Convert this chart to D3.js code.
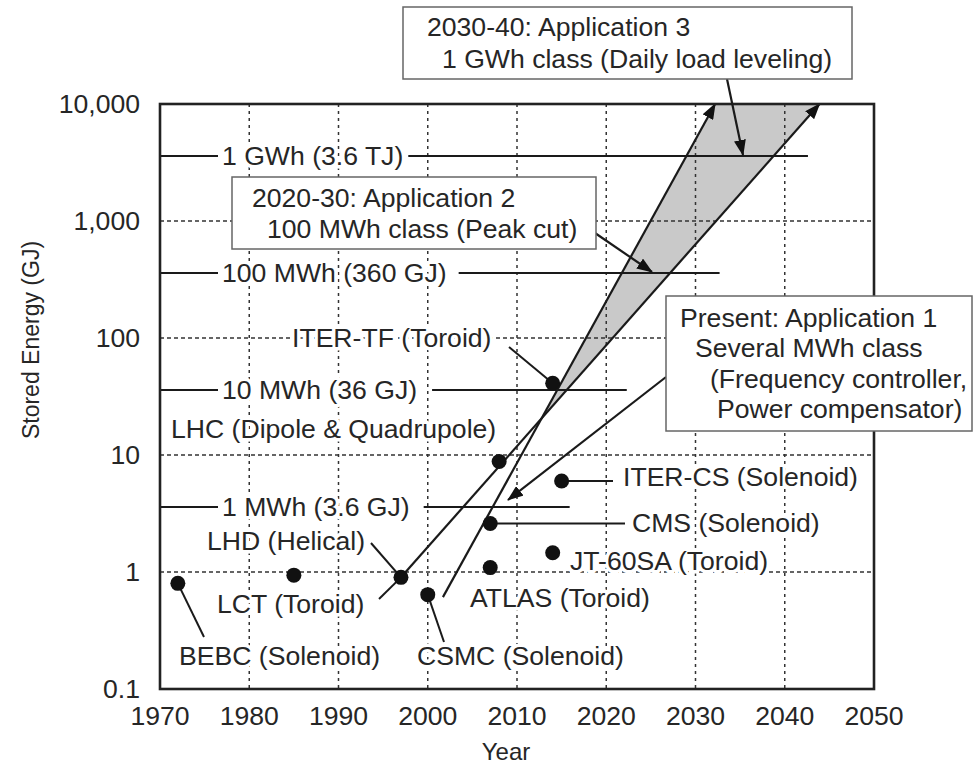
<!DOCTYPE html>
<html>
<head>
<meta charset="utf-8">
<script src="https://cdn.jsdelivr.net/npm/d3@7"></script>
<style>
  body { margin: 0; background: #fff; }
  svg { display: block; font-family: "Liberation Sans", Arial, Helvetica, sans-serif; }
  .lbl { font-size: 26.6px; fill: #262626; }
  .halo { stroke: #fff; stroke-width: 7px; stroke-linejoin: round; paint-order: stroke; }
</style>
</head>
<body>
<div id="chart"></div>
<script>
// axis ticks
const yearTicks = [1970, 1980, 1990, 2000, 2010, 2020, 2030, 2040, 2050];
const energyTicks = [0.1, 1, 10, 100, 1000, 10000];
const energyTickLabels = ['0.1', '1', '10', '100', '1,000', '10,000'];

// magnets: year, stored energy (GJ)
const magnetNames = ['BEBC', '(1985)', 'LHD', 'CSMC', 'ATLAS', 'CMS', 'LHC', 'JT-60SA', 'ITER-CS', 'ITER-TF'];
const magnetYears = [1972, 1985, 1997, 2000, 2007, 2007, 2008, 2014, 2015, 2014];
const magnetEnergy = [0.8, 0.94, 0.9, 0.64, 1.09, 2.6, 8.8, 1.46, 6.0, 41];

// reference energy levels
const levelLabels = ['1 GWh (3.6 TJ)', '100 MWh (360 GJ)', '10 MWh (36 GJ)', '1 MWh (3.6 GJ)'];
const levelEnergy = [3600, 360, 36, 3.6];
const levelEndYears = [2042.6, 2032.7, 2022.3, 2015.9];

// trend lines [start, end]
const trendAYears = [1997, 2043.9];
const trendAEnergy = [0.9, 10000];
const trendBYears = [2001.7, 2032.2];
const trendBEnergy = [0.61, 10000];

const width = 974, height = 766;
const x = d3.scaleLinear().domain([1970, 2050]).range([160, 874]);
const y = d3.scaleLog().domain([0.1, 10000]).range([689, 104]);

const svg = d3.select('#chart').append('svg')
  .attr('width', width)
  .attr('height', height);

const defs = svg.append('defs');
defs.append('marker')
  .attr('id', 'arrow')
  .attr('markerUnits', 'userSpaceOnUse')
  .attr('viewBox', '0 0 16 12')
  .attr('markerWidth', 16)
  .attr('markerHeight', 12)
  .attr('refX', 15)
  .attr('refY', 6)
  .attr('orient', 'auto')
  .append('path')
  .attr('d', 'M0,0 L16,6 L0,12 Z')
  .attr('fill', '#111');

const ink = '#1a1a1a';

// gray band between trend lines
const a0 = [x(trendAYears[0]), y(trendAEnergy[0])], a1 = [x(trendAYears[1]), y(trendAEnergy[1])];
const b0 = [x(trendBYears[0]), y(trendBEnergy[0])], b1 = [x(trendBYears[1]), y(trendBEnergy[1])];
function intersect(p1, p2, p3, p4) {
  const d = (p1[0] - p2[0]) * (p3[1] - p4[1]) - (p1[1] - p2[1]) * (p3[0] - p4[0]);
  const t = ((p1[0] - p3[0]) * (p3[1] - p4[1]) - (p1[1] - p3[1]) * (p3[0] - p4[0])) / d;
  return [p1[0] + t * (p2[0] - p1[0]), p1[1] + t * (p2[1] - p1[1])];
}
const cross = intersect(a0, a1, b0, b1);
svg.append('path')
  .attr('d', d3.line()([cross, b1, a1]) + 'Z')
  .attr('fill', '#c9c9c9');

// grid
const grid = svg.append('g').attr('stroke', '#333').attr('stroke-width', 1.5);
grid.selectAll('line.gx')
  .data(yearTicks.slice(1, -1))
  .join('line')
  .attr('x1', d => x(d)).attr('x2', d => x(d))
  .attr('y1', y(10000)).attr('y2', y(0.1))
  .attr('stroke-dasharray', '3,4');
grid.selectAll('line.gy')
  .data(energyTicks.slice(1, -1))
  .join('line')
  .attr('x1', x(1970)).attr('x2', x(2050))
  .attr('y1', d => y(d)).attr('y2', d => y(d))
  .attr('stroke-dasharray', '4,3');

// axis tick labels
svg.append('g').selectAll('text')
  .data(yearTicks)
  .join('text')
  .attr('class', 'lbl')
  .attr('x', d => x(d))
  .attr('y', 725)
  .attr('text-anchor', 'middle')
  .text(d => d);

svg.append('g').selectAll('text')
  .data(energyTicks)
  .join('text')
  .attr('class', 'lbl')
  .attr('x', 140)
  .attr('y', d => y(d) + 9)
  .attr('text-anchor', 'end')
  .text((d, i) => energyTickLabels[i]);

svg.append('text')
  .attr('class', 'lbl')
  .attr('x', 506)
  .attr('y', 760)
  .attr('text-anchor', 'middle')
  .style('font-size', '24px')
  .text('Year');

svg.append('text')
  .attr('class', 'lbl')
  .attr('transform', 'translate(39,340) rotate(-90)')
  .attr('text-anchor', 'middle')
  .style('font-size', '23px')
  .text('Stored Energy (GJ)');

// reference energy levels
const levelGaps = [5, 12, 15, 14];
const levels = svg.append('g');
levelLabels.forEach((lab, i) => {
  const ly = y(levelEnergy[i]);
  const t = levels.append('text')
    .attr('class', 'lbl halo')
    .attr('x', 222)
    .attr('y', ly + 9)
    .text(lab);
  const end = 222 + t.node().getComputedTextLength();
  levels.insert('line', 'text')
    .attr('x1', x(1970)).attr('x2', 218)
    .attr('y1', ly).attr('y2', ly)
    .attr('stroke', ink).attr('stroke-width', 2);
  levels.insert('line', 'text')
    .attr('x1', end + levelGaps[i]).attr('x2', x(levelEndYears[i]))
    .attr('y1', ly).attr('y2', ly)
    .attr('stroke', ink).attr('stroke-width', 2);
});

// trend lines with arrows
svg.append('line')
  .attr('x1', a0[0]).attr('y1', a0[1]).attr('x2', a1[0]).attr('y2', a1[1])
  .attr('stroke', ink).attr('stroke-width', 2.2)
  .attr('marker-end', 'url(#arrow)');
svg.append('line')
  .attr('x1', b0[0]).attr('y1', b0[1]).attr('x2', b1[0]).attr('y2', b1[1])
  .attr('stroke', ink).attr('stroke-width', 2.2)
  .attr('marker-end', 'url(#arrow)');

// magnet labels and leaders
const magnets = magnetNames.map((n, i) => ({ name: n, year: magnetYears[i], e: magnetEnergy[i] }));
const byName = n => magnets.find(m => m.name === n);

const labelLayout = [
  { text: 'BEBC (Solenoid)', x: 179, y: 665, leader: 'BEBC', from: [204, 637] },
  { text: 'LHD (Helical)', x: 207, y: 550, leader: 'LHD', from: [371, 543] },
  { text: 'LCT (Toroid)', x: 217, y: 613, leader: 'LHD', from: [379, 599] },
  { text: 'CSMC (Solenoid)', x: 417, y: 665, leader: 'CSMC', from: [444, 642] },
  { text: 'ATLAS (Toroid)', x: 470, y: 607 },
  { text: 'LHC (Dipole & Quadrupole)', x: 171, y: 438 },
  { text: 'JT-60SA (Toroid)', x: 570, y: 570 },
  { text: 'CMS (Solenoid)', x: 632, y: 532, leader: 'CMS', from: [625, null] },
  { text: 'ITER-CS (Solenoid)', x: 623, y: 486, leader: 'ITER-CS', from: [613, null] },
  { text: 'ITER-TF (Toroid)', x: 292, y: 347, leader: 'ITER-TF', from: [509, 347] }
];

const leaders = svg.append('g').attr('stroke', ink).attr('stroke-width', 2);
labelLayout.filter(d => d.leader).forEach(d => {
  const m = byName(d.leader);
  const mx = x(m.year), my = y(m.e);
  leaders.append('line')
    .attr('x1', d.from[0]).attr('y1', d.from[1] === null ? my : d.from[1])
    .attr('x2', mx).attr('y2', my);
});

svg.append('g').selectAll('text')
  .data(labelLayout)
  .join('text')
  .attr('class', 'lbl halo')
  .attr('x', d => d.x)
  .attr('y', d => d.y)
  .text(d => d.text);

// magnet dots
svg.append('g').selectAll('circle')
  .data(magnets)
  .join('circle')
  .attr('cx', d => x(d.year))
  .attr('cy', d => y(d.e))
  .attr('r', 7.5)
  .attr('fill', '#111');

// frame
svg.append('rect')
  .attr('x', x(1970)).attr('y', y(10000))
  .attr('width', x(2050) - x(1970)).attr('height', y(0.1) - y(10000))
  .attr('fill', 'none').attr('stroke', '#222').attr('stroke-width', 2.6);

// application boxes
const boxes = [
  { x: 403, y: 7, w: 449, h: 72, lines: [['2030-40: Application 3', 427, 36], ['1 GWh class (Daily load leveling)', 442, 68]],
    arrow: [[727, 79], [743, 155]] },
  { x: 232, y: 177, w: 364, h: 72, lines: [['2020-30: Application 2', 252, 207], ['100 MWh class (Peak cut)', 267, 238]],
    arrow: [[595, 233], [652, 272]] },
  { x: 666, y: 296, w: 306, h: 135, lines: [['Present: Application 1', 680, 327], ['Several MWh class', 695, 357],
    ['(Frequency controller,', 710, 388], ['Power compensator)', 717, 418]],
    arrow: [[666, 377], [508, 500]] }
];

boxes.forEach(b => {
  svg.append('line')
    .attr('x1', b.arrow[0][0]).attr('y1', b.arrow[0][1])
    .attr('x2', b.arrow[1][0]).attr('y2', b.arrow[1][1])
    .attr('stroke', ink).attr('stroke-width', 2.2)
    .attr('marker-end', 'url(#arrow)');
  svg.append('rect')
    .attr('x', b.x).attr('y', b.y).attr('width', b.w).attr('height', b.h)
    .attr('fill', '#fff').attr('stroke', '#666').attr('stroke-width', 1.5);
  b.lines.forEach(l => {
    svg.append('text')
      .attr('class', 'lbl')
      .attr('x', l[1]).attr('y', l[2])
      .text(l[0]);
  });
});
</script>
</body>
</html>
